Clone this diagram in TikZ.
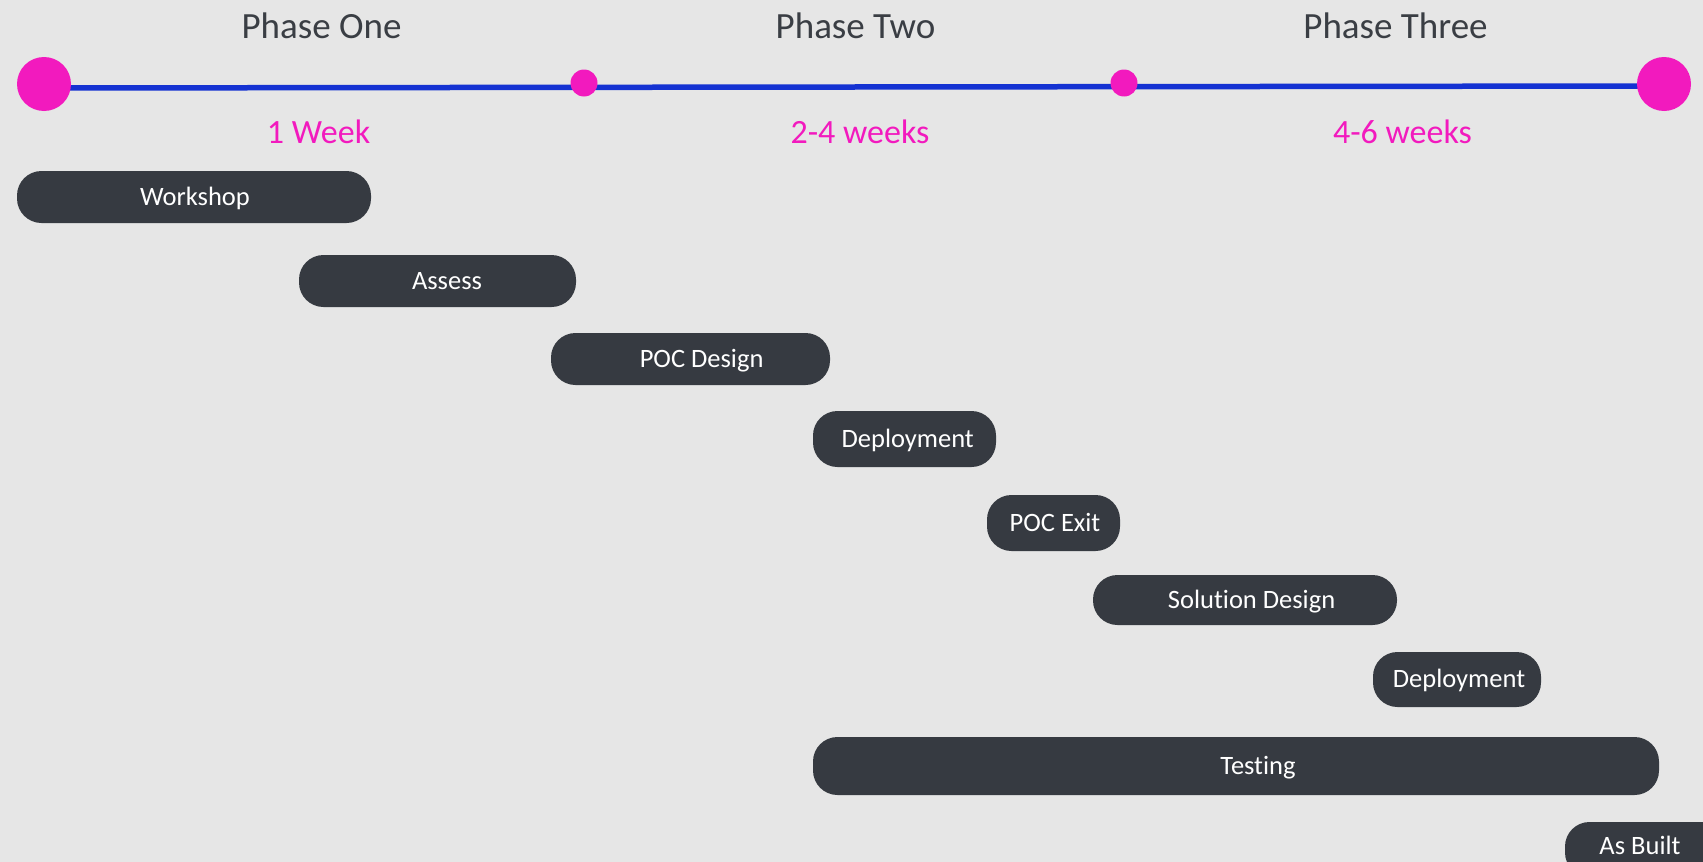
\documentclass[tikz,border=0pt]{standalone}
\usepackage{fontspec}
\setmainfont{Carlito}[Ligatures=NoCommon]
\definecolor{bgc}{HTML}{E6E6E6}
\definecolor{mag}{HTML}{F21ABE}
\definecolor{lineblue}{HTML}{1432D2}
\definecolor{barc}{HTML}{363A41}
\definecolor{phasec}{HTML}{3A3E44}
\tikzset{
 bar/.style={fill=barc, draw=none, rounded corners=24.5pt, inner sep=0pt},
 bartext/.style={text=white, font=\fontsize{26.5}{30}\selectfont, anchor=base, inner sep=0pt},
 phase/.style={text=phasec, font=\fontsize{37}{40}\selectfont, anchor=base, inner sep=0pt},
 dur/.style={text=mag, font=\fontsize{34}{38}\selectfont, anchor=base, inner sep=0pt},
 bigdot/.style={circle, fill=mag, minimum size=54pt, inner sep=0pt},
 smalldot/.style={circle, fill=mag, minimum size=27pt, inner sep=0pt},
 tline/.style={draw=lineblue, line width=5.5pt},
}
\begin{document}
\begin{tikzpicture}[x=1pt,y=-1pt]
\useasboundingbox (0,0) rectangle (1703,862);
\clip (0,0) rectangle (1703,862);
\fill[bgc] (0,0) rectangle (1703,862);
% timeline
\coordinate (c1) at (44,84);
\coordinate (c2) at (584,83);
\coordinate (c3) at (1124,83);
\coordinate (c4) at (1664,84);
\draw[tline] ([yshift=-4pt]c1) -- ([yshift=-2pt]c4);
\node[bigdot] (d1) at (c1) {};
\node[smalldot] (d2) at (c2) {};
\node[smalldot] (d3) at (c3) {};
\node[bigdot] (d4) at (c4) {};
% phase labels
\node[phase] (p1) at (321.5,38) {Phase One};
\node[phase] (p2) at (855.5,38) {Phase Two};
\node[phase] (p3) at (1395.5,38) {Phase Three};
\node[dur] (w1) at (318.6,143) {1 Week};
\node[dur] (w2) at (860,143) {2-4 weeks};
\node[dur] (w3) at (1402.5,143) {4-6 weeks};
% bars
\node[bar, minimum width=354pt, minimum height=52pt] (b1) at (194,197) {};
\node[bartext] (t1) at (195,205) {Workshop};
\node[bar, minimum width=277pt, minimum height=52pt] (b2) at (437.5,281) {};
\node[bartext] (t2) at (447,289) {Assess};
\node[bar, minimum width=279pt, minimum height=52pt] (b3) at (690.5,359) {};
\node[bartext] (t3) at (701.6,367) {POC Design};
\node[bar, minimum width=183pt, minimum height=56pt] (b4) at (904.5,439) {};
\node[bartext] (t4) at (907.7,447) {Deployment};
\node[bar, minimum width=133pt, minimum height=56pt] (b5) at (1053.5,523) {};
\node[bartext] (t5) at (1055,531) {POC Exit};
\node[bar, minimum width=304pt, minimum height=50pt] (b6) at (1245,600) {};
\node[bartext] (t6) at (1251.6,608) {Solution Design};
\node[bar, minimum width=168pt, minimum height=55pt] (b7) at (1457,679.5) {};
\node[bartext] (t7) at (1459,687.5) {Deployment};
\node[bar, minimum width=846pt, minimum height=58pt] (b8) at (1236,766) {};
\node[bartext] (t8) at (1258,774) {Testing};
\node[bar, minimum width=170pt, minimum height=55pt] (b9) at (1650,849.5) {};
\node[bartext] (t9) at (1640,854) {As Built};
\end{tikzpicture}
\end{document}
